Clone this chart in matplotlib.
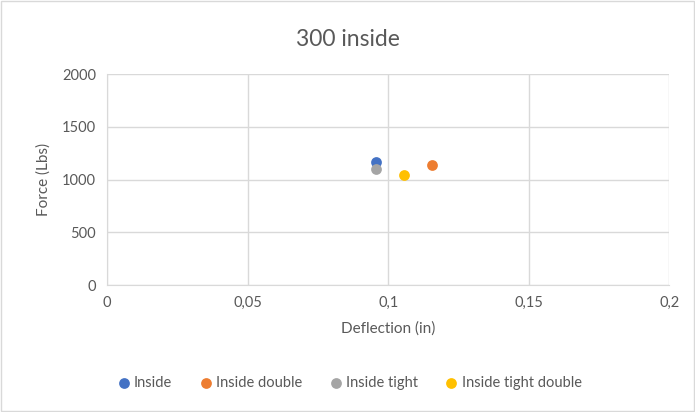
import matplotlib
matplotlib.use("Agg")
import matplotlib.pyplot as plt
from matplotlib.ticker import FuncFormatter, MultipleLocator
from matplotlib.patches import Rectangle

plt.rcParams['font.family'] = ['Lato', 'DejaVu Sans']

series_names = ["Inside", "Inside double", "Inside tight", "Inside tight double"]
deflection = [0.0955, 0.1157, 0.0957, 0.1057]
force = [1163, 1138, 1105, 1040]
colors = ["#4472C4", "#ED7D31", "#A5A5A5", "#FFC000"]

title = "300 inside"
x_label = "Deflection (in)"
y_label = "Force (Lbs)"

text_color = "#595959"
grid_color = "#D9D9D9"

fig = plt.figure(figsize=(6.95, 4.12), dpi=100)
fig.patches.append(Rectangle((0.0015, 0.0025), 0.997, 0.995, transform=fig.transFigure,
                             fill=False, edgecolor="#D9D9D9", linewidth=1))
ax = fig.add_axes([0.154, 0.308, 0.809, 0.512])

for name, x, y, c in zip(series_names, deflection, force, colors):
    ax.scatter([x], [y], s=60, color=c, label=name, zorder=3, linewidths=0)

ax.set_xlim(0, 0.2)
ax.set_ylim(0, 2000)
ax.xaxis.set_major_locator(MultipleLocator(0.05))
ax.yaxis.set_major_locator(MultipleLocator(500))

def comma_fmt(v, pos):
    s = f"{v:.2f}".rstrip("0").rstrip(".")
    return s.replace(".", ",")

ax.xaxis.set_major_formatter(FuncFormatter(comma_fmt))
ax.grid(True, color=grid_color, linewidth=1, zorder=0)
ax.set_axisbelow(True)
for side in ["top", "right"]:
    ax.spines[side].set_visible(False)
for side in ["left", "bottom"]:
    ax.spines[side].set_color(grid_color)
ax.tick_params(length=0, colors=text_color, labelsize=10.5, pad=8)

ax.set_xlabel(x_label, fontsize=11, color=text_color, labelpad=8)
ax.set_ylabel(y_label, fontsize=11, color=text_color, labelpad=8)
fig.text(0.5, 0.905, title, ha="center", va="center", fontsize=16.5, color=text_color)

fig.legend(loc="center", bbox_to_anchor=(0.5, 0.07), ncol=4, frameon=False,
           fontsize=10.5, labelcolor=text_color, handletextpad=0.0,
           columnspacing=1.6, markerscale=1.0, handlelength=1.4)

fig.savefig("out.png", dpi=100)
